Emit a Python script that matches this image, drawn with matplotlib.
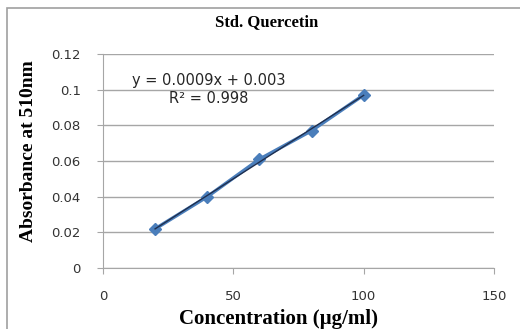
import numpy as np
import matplotlib.pyplot as plt
from matplotlib.patches import Rectangle

# Datos de la curva de calibración
conc = [20, 40, 60, 80, 100]
absorb = [0.022, 0.040, 0.061, 0.077, 0.097]
eq_text = "y = 0.0009x + 0.003"
r2_text = "R² = 0.998"

fig = plt.figure(figsize=(5.2, 3.29), dpi=100)
ax = fig.add_axes([0.198, 0.185, 0.752, 0.651])

# Marco gris (solo visible arriba e izquierda)
fig.patches.append(Rectangle((0.014, -0.2), 1.2, 1.176, transform=fig.transFigure,
                             fill=False, edgecolor='#a0a0a0', linewidth=1.2))

# Línea de tendencia
m, b = np.polyfit(conc, absorb, 1)
xt = np.array([conc[0], conc[-1]])
ax.plot(conc, absorb, color='#4a7ebb', linewidth=2.5, marker='D', markersize=6,
        markerfacecolor='#4a7ebb', markeredgecolor='#4a7ebb', zorder=3)
ax.plot(xt, m * xt + b, color='#1f2f4f', linewidth=1.0, zorder=4)

ax.set_xlim(0, 150)
ax.set_ylim(0, 0.12)
ax.set_xticks([0, 50, 100, 150])
ax.set_yticks([0, 0.02, 0.04, 0.06, 0.08, 0.1, 0.12])
ax.set_yticklabels(['0', '0.02', '0.04', '0.06', '0.08', '0.1', '0.12'])
ax.yaxis.grid(True, color='#a6a6a6', linewidth=1.0)
ax.set_axisbelow(True)
for s in ['top', 'right']:
    ax.spines[s].set_visible(False)
for s in ['left', 'bottom']:
    ax.spines[s].set_color('#a6a6a6')
ax.tick_params(axis='both', colors='#a6a6a6', labelcolor='#333333', labelsize=9.5,
               length=4, direction='out')
ax.tick_params(axis='y', pad=12)
ax.tick_params(axis='x', pad=12)
for lab in ax.get_xticklabels() + ax.get_yticklabels():
    lab.set_family('DejaVu Sans')

ax.text(40.4, 0.1054, eq_text, ha='center', va='center', fontsize=10.5, color='#262626')
ax.text(40.4, 0.0948, r2_text, ha='center', va='center', fontsize=10.5, color='#262626')

fig.text(0.512, 0.933, 'Std. Quercetin', ha='center', va='center', fontsize=12,
         fontweight='bold', family='Liberation Serif')
fig.text(0.535, 0.030, 'Concentration (µg/ml)', ha='center', va='center', fontsize=15,
         fontweight='bold', family='Liberation Serif')
fig.text(0.054, 0.541, 'Absorbance at 510nm', ha='center', va='center', rotation=90,
         fontsize=14, fontweight='bold', family='Liberation Serif')

fig.savefig('out.png', dpi=100)
